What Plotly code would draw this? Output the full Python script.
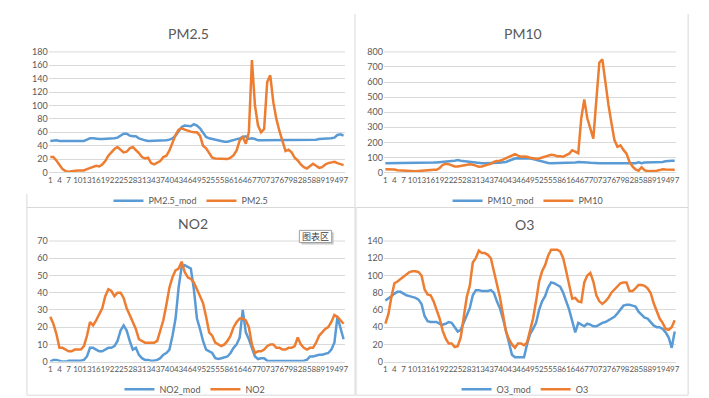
import plotly.graph_objects as go

# ---------------- data ----------------
hours = list(range(1, 98))
x_tick_vals = list(range(1, 98, 3))
x_tick_text = [str(v) for v in x_tick_vals]

pm25_mod = [47, 48, 48, 47, 47, 47, 47, 47, 47, 47, 47, 47, 49, 51, 51, 50, 50, 50, 50, 50,
            50, 51, 52, 55, 58, 58, 55, 54, 54, 51, 49, 48, 47, 47, 47, 47, 47, 47, 48, 49,
            51, 55, 62, 68, 70, 69, 69, 72, 70, 66, 60, 53, 51, 50, 48, 47, 46, 46, 46, 47,
            48, 50, 51, 53, 54, 50, 51, 50, 48, 48, 48, 48, 48, 48, 48, 48, 48, 48, 48, 48,
            48, 48, 48, 48, 48, 48, 49, 49, 50, 50, 51, 51, 51, 52, 56, 57, 55]
pm25 = [23, 23, 18, 12, 5, 2, 1, 2, 3, 3, 3, 3, 5, 7, 9, 10, 9, 12, 17, 25,
        30, 35, 38, 34, 30, 31, 36, 38, 34, 29, 23, 21, 22, 14, 12, 14, 17, 23, 25, 33,
        46, 56, 64, 66, 64, 62, 61, 60, 60, 55, 40, 36, 28, 22, 21, 21, 20, 20, 20, 22,
        26, 33, 48, 53, 43, 60, 168, 100, 70, 60, 65, 135, 145, 105, 80, 62, 45, 32, 34, 30,
        22, 18, 12, 8, 6, 9, 13, 10, 7, 8, 12, 14, 15, 16, 14, 12, 11]

pm10_mod = [62, 62, 62, 62, 62, 62, 62, 62, 62, 62, 62, 63, 65, 65, 65, 65, 66, 67, 68, 70,
            72, 75, 76, 78, 82, 78, 75, 73, 72, 68, 65, 62, 62, 62, 62, 62, 63, 65, 65, 68,
            70, 78, 88, 93, 95, 95, 95, 95, 93, 90, 85, 80, 70, 66, 63, 62, 62, 62, 62, 62,
            62, 63, 65, 66, 70, 67, 66, 66, 64, 62, 62, 62, 62, 62, 62, 62, 62, 62, 62, 62,
            62, 62, 62, 62, 68, 62, 66, 66, 66, 66, 66, 67, 70, 75, 78, 78, 78]
pm10 = [22, 22, 22, 20, 15, 13, 12, 12, 10, 8, 8, 10, 12, 15, 17, 18, 18, 18, 30, 50,
        58, 55, 48, 40, 40, 45, 50, 54, 55, 52, 44, 38, 40, 48, 52, 58, 70, 76, 78, 85,
        95, 105, 115, 122, 112, 105, 106, 105, 98, 94, 92, 93, 100, 108, 110, 118, 115, 108, 108, 105,
        115, 125, 148, 140, 128, 360, 485, 360, 290, 225, 480, 730, 750, 590, 450, 330, 215, 170, 180, 150,
        125, 70, 40, 20, 12, 35, 15, 8, 8, 8, 12, 16, 22, 20, 18, 18, 18]

no2_mod = [0, 1, 1, 0.5, 0, 0, 0.5, 0.5, 0.5, 0.5, 0.5, 1, 3, 8, 8, 7, 6, 6, 7, 8,
           8, 9, 12, 18, 21, 18, 12, 7, 8, 4, 2, 1, 1, 0.5, 0.5, 1, 2, 4, 5, 7,
           15, 25, 43, 55, 56, 55, 54, 42, 25, 19, 12, 7, 6, 5, 2, 1.5, 2, 2.5, 3, 5,
           8, 10, 14, 30, 17, 13, 8, 3, 1.5, 2, 2, 0.5, 0.3, 0.3, 0.3, 0.3, 0.3, 0.3, 0.3, 0.3,
           0.3, 0.3, 0.3, 0.5, 1, 3, 3, 3.5, 4, 4, 4.5, 5, 7, 11, 26, 20, 13]
no2 = [26, 22, 16, 8, 8, 7, 6, 6, 7, 7, 7, 9, 15, 23, 21, 24, 28, 31, 38, 42,
       41, 38, 40, 40, 37, 31, 27, 23, 19, 13, 12, 11, 11, 11, 11, 12, 18, 24, 33, 43,
       49, 53, 54, 58, 52, 49, 48, 46, 42, 38, 34, 26, 17, 15, 11, 10, 9, 10, 12, 15,
       20, 23, 25, 25, 24, 20, 10, 5, 6, 6, 7, 9, 10, 10, 8, 8, 7, 7, 8, 8,
       9, 14, 10, 8, 7, 8, 8, 11, 15, 17, 19, 20, 23, 27, 26, 24, 22]

o3_mod = [71, 73, 76, 79, 81, 81, 79, 77, 76, 75, 74, 72, 67, 53, 47, 46, 46, 46, 44, 43,
          44, 46, 45, 40, 35, 37, 45, 55, 62, 77, 83, 83, 82, 82, 82, 83, 80, 70, 62, 50,
          35, 20, 8, 5, 5, 5, 5, 20, 32, 38, 45, 60, 70, 76, 86, 92, 91, 89, 87, 80,
          70, 60, 47, 34, 45, 43, 41, 44, 43, 41, 41, 43, 45, 46, 48, 50, 52, 56, 61, 65,
          66, 66, 65, 64, 58, 55, 51, 50, 46, 42, 40, 40, 38, 34, 28, 16, 35]
o3 = [44, 55, 75, 91, 93, 96, 99, 102, 104, 105, 105, 104, 100, 84, 78, 77, 70, 60, 50, 36,
      27, 21, 21, 17, 18, 28, 50, 75, 88, 115, 120, 129, 126, 126, 124, 120, 105, 90, 75, 55,
      35, 26, 20, 16, 21, 21, 19, 22, 35, 50, 70, 93, 105, 112, 123, 130, 130, 130, 128, 120,
      105, 90, 73, 74, 70, 69, 92, 100, 103, 93, 77, 70, 67, 70, 74, 80, 84, 88, 91, 92,
      92, 82, 82, 85, 89, 89, 88, 85, 80, 68, 58, 50, 45, 38, 37, 40, 48]

# ---------------- layout helpers ----------------
W, H = 709, 398
BLUE = "#5B9BD5"
ORANGE = "#ED7D31"
GRID = "#D9D9D9"
TXT = "#595959"
FONT = "Lato, Carlito, 'Liberation Sans', sans-serif"


def fx(x):
    return x / W


def fy(y):
    return 1 - y / H


panels = [
    dict(title="PM2.5", mod=pm25_mod, obs=pm25, mod_name="PM2.5_mod", obs_name="PM2.5",
         ymax=180, dtick=20, box=(40, 338, 39, 163), title_xy=(181, 20), legend_xy=(183, 192)),
    dict(title="PM10", mod=pm10_mod, obs=pm10, mod_name="PM10_mod", obs_name="PM10",
         ymax=800, dtick=100, box=(377, 671, 39, 163), title_xy=(517, 20), legend_xy=(522, 192)),
    dict(title="NO2", mod=no2_mod, obs=no2, mod_name="NO2_mod", obs_name="NO2",
         ymax=70, dtick=10, box=(40, 338, 233.5, 357.5), title_xy=(185, 215), legend_xy=(187, 386)),
    dict(title="O3", mod=o3_mod, obs=o3, mod_name="O3_mod", obs_name="O3",
         ymax=140, dtick=20, box=(377, 671, 233.5, 357.5), title_xy=(518, 216), legend_xy=(519, 386)),
]

fig = go.Figure()
layout = dict(
    width=W, height=H,
    margin=dict(l=0, r=0, t=0, b=0),
    paper_bgcolor="white", plot_bgcolor="white",
    font=dict(family=FONT, color=TXT, size=9),
    showlegend=True,
    annotations=[], shapes=[],
)

for k, p in enumerate(panels):
    n = "" if k == 0 else str(k + 1)
    leg = "legend" if k == 0 else f"legend{k + 1}"
    x0, x1, y0, y1 = p["box"]
    fig.add_trace(go.Scatter(x=hours, y=p["mod"], name=p["mod_name"], mode="lines",
                             line=dict(color=BLUE, width=2.5), xaxis="x" + n, yaxis="y" + n,
                             legend=leg))
    fig.add_trace(go.Scatter(x=hours, y=p["obs"], name=p["obs_name"], mode="lines",
                             line=dict(color=ORANGE, width=2.5), xaxis="x" + n, yaxis="y" + n,
                             legend=leg))
    layout["xaxis" + n] = dict(
        domain=[fx(x0), fx(x1)], anchor="y" + n, range=[0.5, 97.5],
        tickmode="array", tickvals=x_tick_vals, ticktext=x_tick_text, tickangle=0,
        tickfont=dict(size=8, color=TXT), showgrid=False, zeroline=False,
        showline=True, linecolor=GRID, linewidth=1, ticks="",
    )
    layout["yaxis" + n] = dict(
        domain=[fy(y1), fy(y0)], anchor="x" + n, range=[0, p["ymax"]], dtick=p["dtick"],
        tick0=0, showgrid=True, gridcolor=GRID, gridwidth=1, zeroline=False,
        tickfont=dict(size=9, color=TXT), ticks="", showline=False,
    )
    layout[leg] = dict(
        orientation="h", x=fx(p["legend_xy"][0]), y=fy(p["legend_xy"][1]),
        xanchor="center", yanchor="middle", font=dict(size=9, color=TXT),
        bgcolor="rgba(0,0,0,0)", itemwidth=30, tracegroupgap=0,
    )
    layout["annotations"].append(dict(
        text=p["title"], x=fx(p["title_xy"][0]), y=fy(p["title_xy"][1]),
        xref="paper", yref="paper", showarrow=False, xanchor="center", yanchor="middle",
        font=dict(size=14, color=TXT, family=FONT)))
    # top gridline (max)
    layout["shapes"].append(dict(type="line", xref="paper", yref="paper",
                                 x0=fx(x0), x1=fx(x1), y0=fy(y0), y1=fy(y0),
                                 line=dict(color=GRID, width=1), layer="below"))

# panel borders
BORDER = "#D9D9D9"
for (a, b, c, d) in [(18, 348, 199, 392), (349, 683, 199, 392)]:
    layout["shapes"].append(dict(type="rect", xref="paper", yref="paper",
                                 x0=fx(a), x1=fx(b), y0=fy(d), y1=fy(c),
                                 line=dict(color=BORDER, width=1), layer="below"))
for xv in (348, 683):
    layout["shapes"].append(dict(type="line", xref="paper", yref="paper",
                                 x0=fx(xv), x1=fx(xv), y0=fy(199), y1=1,
                                 line=dict(color=BORDER, width=1), layer="below"))
layout["shapes"].append(dict(type="line", xref="paper", yref="paper",
                             x0=fx(18), x1=fx(18), y0=fy(199), y1=fy(185),
                             line=dict(color=BORDER, width=1), layer="below"))

# "图表区" tooltip box (Excel chart-area hover tip) with a soft shadow
layout["shapes"].append(dict(type="rect", xref="paper", yref="paper",
                             x0=fx(294), x1=fx(326.5), y0=fy(237), y1=fy(224.5),
                             fillcolor="#C8C8C8", line=dict(width=0), layer="above"))
layout["shapes"].append(dict(type="rect", xref="paper", yref="paper",
                             x0=fx(292), x1=fx(324.5), y0=fy(235), y1=fy(222.5),
                             fillcolor="white", line=dict(color="#A0A0A0", width=1), layer="above"))
layout["annotations"].append(dict(
    text="图表区", x=fx(308.2), y=fy(228.8), xref="paper", yref="paper", showarrow=False,
    xanchor="center", yanchor="middle",
    font=dict(size=9, color="#404040", family="Noto Sans CJK SC")))

fig.update_layout(**layout)
fig.write_html("out.html")
